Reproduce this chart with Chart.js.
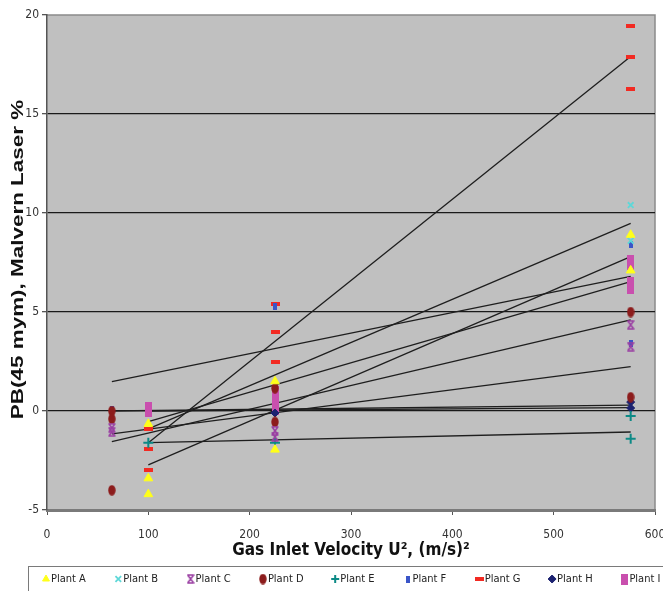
<!DOCTYPE html>
<html>
<head>
<meta charset="utf-8">
<script src="https://cdn.jsdelivr.net/npm/chart.js@4.4.1/dist/chart.umd.min.js"></script>
<style>
html,body{margin:0;padding:0;background:#fff}
#wrap{width:663px;height:591px}
</style>
</head>
<body>
<div id="wrap"><canvas id="grafica" width="663" height="591"></canvas></div>
<script>

// data: x = U^2, y = PB(45)
const plantNames = ["Plant A","Plant B","Plant C","Plant D","Plant E","Plant F","Plant G","Plant H","Plant I"]

const plantAx = [100,100,100,225,225,576,576]
const plantAy = [-0.65,-3.4,-4.2,1.5,-1.95,8.9,7.1]
const plantBx = [576,576]
const plantBy = [10.4,8.6]
const plantCx = [64,64,225,225,576,576]
const plantCy = [-0.85,-1.05,-1.0,-1.3,4.35,3.25]
const plantDx = [64,64,64,225,225,576,576]
const plantDy = [0.0,-0.4,-4.0,1.15,-0.55,5.0,0.7]
const plantEx = [100,225,576,576]
const plantEy = [-1.6,-1.6,-0.25,-1.4]
const plantFx = [64,225,576,576]
const plantFy = [0.1,5.3,8.4,3.4]
const plantGx = [100,100,100,225,225,225,576,576,576]
const plantGy = [-0.9,-1.9,-3.0,5.4,4.0,2.5,19.45,17.9,16.25]
const plantHx = [225,576,576]
const plantHy = [-0.1,0.45,0.15]
const plantIx = [100,100,225,225,225,225,576,576,576,576]
const plantIy = [0.2,0.0,1.0,0.7,0.4,0.1,7.6,7.4,6.5,6.2]

// trend lines (start and end)
const trendX0 = [64,64,64,100,100,100,100,100,64,100]
const trendY0 = [1.48,-1.16,-1.55,-0.54,-0.9,-1.6,-1.6,-2.72,0.0,0.0]
const trendX1 = [576,576,576,576,576,576,576,576,576,576]
const trendY1 = [6.8,2.24,4.6,6.53,9.48,-1.06,17.9,7.8,0.3,0.17]

const xTicks = [0,100,200,300,400,500,600]
const yTicks = [-5,0,5,10,15,20]

// pick a narrow font if one is installed
function ancho(f){
const g=document.createElement("canvas").getContext("2d")
g.font=f
return g.measureText("Plant A 100 Gas Inlet").width
}
let NARROW="'Liberation Sans',sans-serif"
let COND=""
let estrechar=0.86
if(ancho("12px 'Liberation Sans Narrow',monospace")<ancho("12px 'Liberation Sans'")*0.9){
NARROW="'Liberation Sans Narrow','Liberation Sans',sans-serif"
estrechar=1
}else if(ancho("condensed 12px 'DejaVu Sans'")<ancho("12px 'DejaVu Sans'")*0.93){
NARROW="'DejaVu Sans',sans-serif"
COND="condensed"
estrechar=1
}
const WIDE="'Liberation Sans',Arial,sans-serif"

function marca(w,h,dibujo){
const c=document.createElement("canvas")
c.width=w
c.height=h
dibujo(c.getContext("2d"),w,h)
return c
}

const marcaC = marca(8,10,(g,w,h)=>{
g.strokeStyle="#9a3fa3"
g.lineWidth=1.6
g.beginPath()
g.moveTo(1,1);g.lineTo(w-1,h-1)
g.moveTo(w-1,1);g.lineTo(1,h-1)
g.moveTo(0.5,1);g.lineTo(w-0.5,1)
g.moveTo(0.5,h-1);g.lineTo(w-0.5,h-1)
g.stroke()
})
const marcaD = marca(8,11,(g,w,h)=>{
g.fillStyle="#8c1c1c"
g.beginPath()
g.ellipse(w/2,h/2,w/2-0.3,h/2-0.3,0,0,Math.PI*2)
g.fill()
})
const marcaF = marca(4,7,(g,w,h)=>{g.fillStyle="#3a55c8";g.fillRect(0,0,w,h)})
const marcaG = marca(9,4,(g,w,h)=>{g.fillStyle="#f22a22";g.fillRect(0,0,w,h)})
const marcaI = marca(7,11,(g,w,h)=>{g.fillStyle="#c94fae";g.fillRect(0,0,w,h)})

function puntos(xs,ys){
return xs.map((x,i)=>({x:x,y:ys[i]}))
}

const estilos = [
{pointStyle:"triangle",radius:5,bg:"#ffff1a",bc:"#ffff1a",bw:1},
{pointStyle:"crossRot",radius:4,bg:"#5ed8d8",bc:"#5ed8d8",bw:1.8},
{pointStyle:marcaC,radius:5,bg:"#9a3fa3",bc:"#9a3fa3",bw:1},
{pointStyle:marcaD,radius:5,bg:"#8c1c1c",bc:"#8c1c1c",bw:1},
{pointStyle:"cross",radius:5,bg:"#0c8a86",bc:"#0c8a86",bw:2},
{pointStyle:marcaF,radius:4,bg:"#3a55c8",bc:"#3a55c8",bw:1},
{pointStyle:marcaG,radius:5,bg:"#f22a22",bc:"#f22a22",bw:1},
{pointStyle:"rectRot",radius:4,bg:"#1c2270",bc:"#1c2270",bw:1},
{pointStyle:marcaI,radius:5,bg:"#c94fae",bc:"#c94fae",bw:1}
]

const series = [
puntos(plantAx,plantAy),puntos(plantBx,plantBy),puntos(plantCx,plantCy),
puntos(plantDx,plantDy),puntos(plantEx,plantEy),puntos(plantFx,plantFy),
puntos(plantGx,plantGy),puntos(plantHx,plantHy),puntos(plantIx,plantIy)
]

let datasets = series.map((d,i)=>({
type:"scatter",
label:plantNames[i],
data:d,
pointStyle:estilos[i].pointStyle,
pointRadius:estilos[i].radius,
pointBackgroundColor:estilos[i].bg,
pointBorderColor:estilos[i].bc,
pointBorderWidth:estilos[i].bw
}))

trendX0.forEach((x0,i)=>{
datasets.push({
type:"line",
label:"trend"+i,
data:[{x:x0,y:trendY0[i]},{x:trendX1[i],y:trendY1[i]}],
borderColor:"#1e1e1e",
borderWidth:1.3,
pointRadius:0,
fill:false,
tension:0
})
})

const fondoGris = {
id:"fondoGris",
beforeDraw(chart){
const a=chart.chartArea
const g=chart.ctx
g.save()
g.fillStyle="#c0c0c0"
g.fillRect(a.left,a.top,a.right-a.left,a.bottom-a.top)
g.strokeStyle="#8a8a8a"
g.lineWidth=1.5
g.beginPath()
g.moveTo(a.left,a.top)
g.lineTo(a.right,a.top)
g.lineTo(a.right,a.bottom)
g.stroke()
g.restore()
}
}

// y title: the reference is stretched along the text
const tituloY = {
id:"tituloY",
afterDraw(chart){
const a=chart.chartArea
const g=chart.ctx
g.save()
g.translate(18,(a.top+a.bottom)/2-3)
g.rotate(-Math.PI/2)
g.scale(1.32,1)
g.font="bold 17px "+WIDE
g.fillStyle="#111"
g.textAlign="center"
g.textBaseline="middle"
g.fillText("PB(45 mym), Malvern Laser %",0,0)
g.restore()
}
}

const leyenda = {
id:"leyenda",
afterDraw(chart){
const g=chart.ctx
g.save()
g.strokeStyle="#7a7a7a"
g.lineWidth=1
g.strokeRect(28.5,566.5,640,40)
g.textBaseline="middle"
plantNames.forEach((n,i)=>{
const x=46+i*72.3
const y=579
const e=estilos[i]
g.fillStyle=e.bg
g.strokeStyle=e.bc
g.lineWidth=e.bw
Chart.helpers.drawPoint(g,{pointStyle:e.pointStyle,radius:4,borderWidth:e.bw,rotation:0},x,y)
g.save()
g.translate(x+5,y)
g.scale(estrechar,1)
g.font=(COND?COND+" ":"")+"11px "+NARROW
g.fillStyle="#222"
g.fillText(n,0,0)
g.restore()
})
g.restore()
}
}

new Chart(document.getElementById("grafica"),{
data:{datasets:datasets},
options:{
responsive:false,
animation:false,
layout:{padding:{top:15,right:8,bottom:30,left:0}},
plugins:{legend:{display:false},tooltip:{enabled:false}},
scales:{
x:{
type:"linear",
min:0,max:600,
afterBuildTicks(s){s.ticks=xTicks.map(v=>({value:v}))},
afterFit(s){s.height=51;s.paddingRight=0;s.paddingLeft=0},
grid:{drawOnChartArea:false,drawTicks:true,tickLength:5,color:"#555",tickColor:"#555"},
border:{color:"#7a7a7a",width:3},
ticks:{color:"#333",padding:13,font:{family:NARROW,size:12,weight:COND||undefined}},
title:{display:true,text:"Gas Inlet Velocity U², (m/s)²",color:"#111",padding:{top:0,bottom:0},font:{family:NARROW,size:17,weight:COND?"bold "+COND:"bold"}}
},
y:{
type:"linear",
min:-5,max:20,
afterBuildTicks(s){s.ticks=yTicks.map(v=>({value:v}))},
afterFit(s){s.width=47},
grid:{
color:c=>(c.tick.value===-5||c.tick.value===20)?"rgba(0,0,0,0)":"#1a1a1a",
lineWidth:1.3,
tickLength:5,
tickColor:"#555"
},
border:{color:"#555",width:1.5},
ticks:{color:"#333",padding:3,font:{family:NARROW,size:12,weight:COND||undefined}},
title:{display:false}
}
}
},
plugins:[fondoGris,tituloY,leyenda]
})

</script>
</body>
</html>
